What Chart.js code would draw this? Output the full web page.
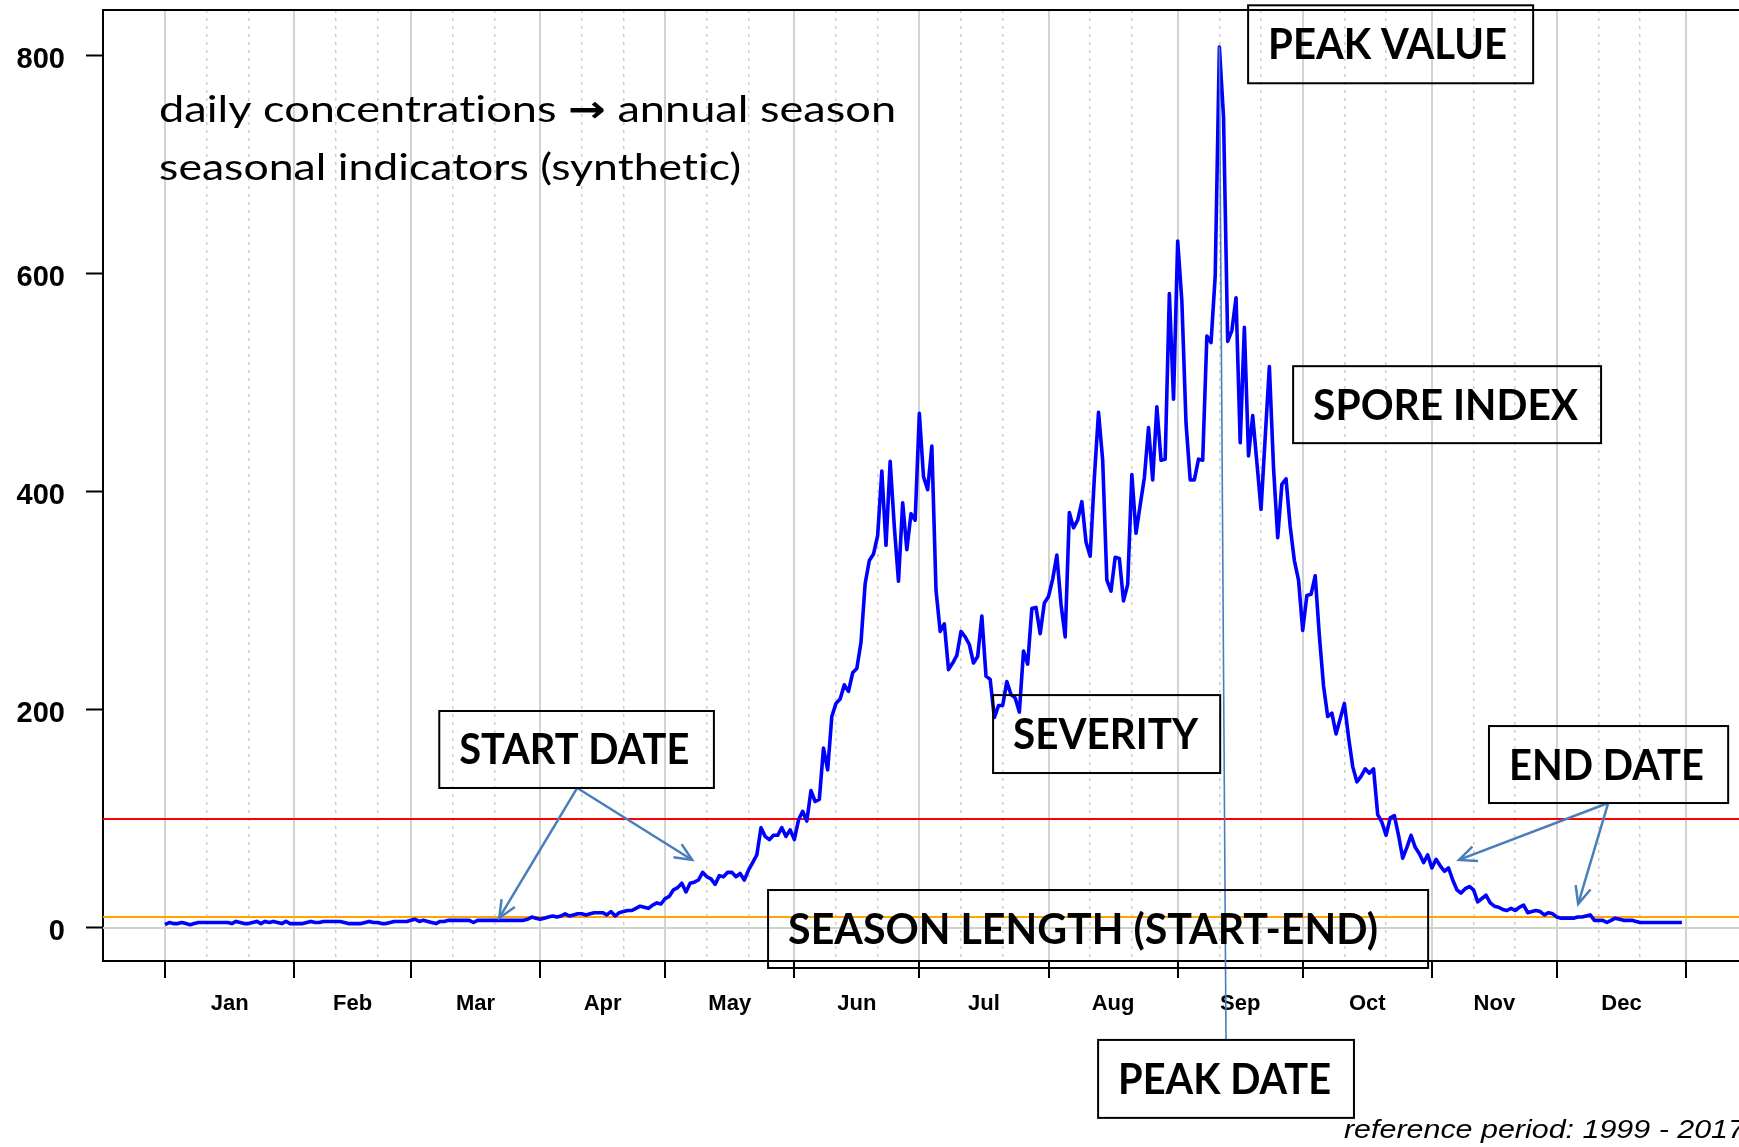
<!DOCTYPE html>
<html>
<head>
<meta charset="utf-8">
<script src="https://cdn.jsdelivr.net/npm/chart.js@4.4.1/dist/chart.umd.min.js"></script>
<style>
  html, body { margin: 0; padding: 0; background: #fff; overflow: hidden; }
</style>
</head>
<body>
<canvas id="chart" width="1739" height="1147"></canvas>
<script>
// daily concentrations, one array per month
const jan = [3,5,4,4,5,4,3,4,5,5,5,5,5,5,5,5,4,6,5,4,4,5,6,4,6,5,6,5,4,6,4];
const feb = [4,4,4,5,6,5,5,6,6,6,6,6,5,4,4,4,4,5,6,5,5,4,4,5,6,6,6,6];
const mar = [7,8,6,7,6,5,4,6,6,7,7,7,7,7,7,5,7,7,7,7,7,7,7,7,7,7,7,7,8,10,9];
const apr = [8,9,10,11,10,11,13,11,12,13,13,12,13,14,14,14,12,15,11,14,15,16,16,18,20,19,18,21,23,22];
const may = [27,29,35,37,41,33,41,42,44,51,47,45,40,48,47,51,51,47,50,44,53,60,67,92,84,81,85,85,92,84,90];
const jun = [81,99,107,98,126,116,118,165,145,194,206,210,223,217,234,238,262,316,337,343,360,419,351,428,368,318,390,347,380,374];
const jul = [472,414,402,442,310,272,279,237,243,250,272,267,260,243,249,286,231,228,193,204,204,226,214,211,198,254,242,293,294,270,298];
const aug = [304,320,342,297,267,381,367,374,391,354,341,413,473,429,319,309,340,339,300,315,416,362,388,413,459,411,478,429,430,582,485];
const sep = [630,575,463,411,411,430,429,543,537,598,808,744,538,548,578,445,551,433,470,427,384,450,515,422,358,407,412,368,337,319];
const oct = [273,305,306,323,268,222,194,197,178,192,206,175,148,134,139,146,142,146,104,97,85,101,103,85,64,74,85,74,68,60,67];
const nov = [55,63,57,52,55,44,35,32,36,38,35,24,27,30,23,20,19,17,16,18,16,19,21,14,15,16,15,12,14,13];
const dec = [10,9,9,9,9,10,10,11,12,7,7,7,5,7,9,8,7,7,7,6,5,5,5,5,5,5,5,5,5,5,5];

const months = ['Jan','Feb','Mar','Apr','May','Jun','Jul','Aug','Sep','Oct','Nov','Dec'];
const monthStarts = [1, 32, 60, 91, 121, 152, 182, 213, 244, 274, 305, 335, 366];
const yTicks = [0, 200, 400, 600, 800];
const levels = [0, 10, 100];
const levelColors = ['#c9d6c9', '#ffa500', '#ff0000'];

const daily = [].concat(jan, feb, mar, apr, may, jun, jul, aug, sep, oct, nov, dec);
const peakDay = daily.indexOf(Math.max(...daily)) + 1;

const X_MIN = -13.9, X_MAX = 378.7;
const Y_MIN = -30.3, Y_MAX = 842;

// x ticks: month boundaries (solid grid + tick mark), 11th/21st (dashed grid), mid-month (label)
const xTicks = [];
monthStarts.forEach((s, i) => {
  xTicks.push({ value: s, kind: 'month' });
  if (i < months.length) {
    xTicks.push({ value: s + 10, kind: 'dekad' });
    xTicks.push({ value: (s + monthStarts[i + 1]) / 2, kind: 'label', label: months[i] });
    xTicks.push({ value: s + 20, kind: 'dekad' });
  }
});
const kindAt = (ctx) => (ctx.tick && xTicks[ctx.index]) ? xTicks[ctx.index].kind : 'none';

// annotation boxes, in data units (day, value)
const boxes = [
  { text: 'PEAK VALUE', x1: 260.9, x2: 329.3, y1: 846.3, y2: 774.8, w: 239 },
  { text: 'SPORE INDEX', x1: 271.7, x2: 345.6, y1: 515.3, y2: 444.7, w: 265 },
  { text: 'START DATE', x1: 66.8, x2: 132.7, y1: 199.0, y2: 128.4, w: 230 },
  { text: 'SEVERITY', x1: 199.7, x2: 254.2, y1: 213.6, y2: 142.1, w: 185 },
  { text: 'END DATE', x1: 318.7, x2: 376.1, y1: 185.2, y2: 114.6, w: 195 },
  { text: 'SEASON LENGTH (START-END)', x1: 145.7, x2: 304.1, y1: 34.8, y2: -36.7, w: 590 },
  { text: 'PEAK DATE', x1: 224.9, x2: 286.3, y1: -102.7, y2: -174.2, w: 213 }
];
const arrows = [
  [99.9, 128.4, 81.2, 9.2],
  [99.9, 128.4, 127.5, 62.4],
  [347.3, 114.6, 311.5, 62.4],
  [347.3, 114.6, 340.1, 22.0]
];

// draw text runs squeezed/stretched to a given total width
function fitRuns(ctx, runs, px, py, width) {
  let total = 0;
  runs.forEach(r => { ctx.font = r.font; r.w = ctx.measureText(r.text).width; total += r.w; });
  ctx.save();
  ctx.translate(px, py);
  ctx.scale(width / total, 1);
  let x = 0;
  runs.forEach(r => { ctx.font = r.font; ctx.fillText(r.text, x, 0); x += r.w; });
  ctx.restore();
}
function fitText(ctx, text, px, py, width, font) {
  fitRuns(ctx, [{ text, font }], px, py, width);
}

function drawArrow(ctx, x0, y0, x1, y1) {
  ctx.beginPath();
  ctx.moveTo(x0, y0);
  ctx.lineTo(x1, y1);
  ctx.stroke();
  const a = Math.atan2(y1 - y0, x1 - x0);
  const L = 19, s = 0.42;
  ctx.beginPath();
  ctx.moveTo(x1 - L * Math.cos(a - s), y1 - L * Math.sin(a - s));
  ctx.lineTo(x1, y1);
  ctx.lineTo(x1 - L * Math.cos(a + s), y1 - L * Math.sin(a + s));
  ctx.stroke();
}

const annotations = {
  id: 'annotations',
  afterDraw(chart) {
    const { ctx, chartArea } = chart;
    const xs = chart.scales.x, ys = chart.scales.y;
    const px = (v) => xs.getPixelForValue(v);
    const py = (v) => ys.getPixelForValue(v);
    ctx.save();

    // top frame line
    ctx.strokeStyle = '#000';
    ctx.lineWidth = 2;
    ctx.beginPath();
    ctx.moveTo(chartArea.left - 1, chartArea.top);
    ctx.lineTo(chartArea.right, chartArea.top);
    ctx.stroke();

    // heading (ZWNJ keeps Lato from using its "ti" ligature)
    ctx.fillStyle = '#000';
    ctx.textBaseline = 'alphabetic';
    ctx.textAlign = 'left';
    fitRuns(ctx, [
      { text: 'daily concentrat\u200Cions ', font: '37px Lato' },
      { text: '\u2192', font: 'bold 37px "DejaVu Sans"' },
      { text: ' annual season', font: '37px Lato' }
    ], px(-0.44), py(739.3), 737);
    fitText(ctx, 'seasonal indicators (synthet\u200Cic)', px(-0.44), py(685.8), 582, '37px Lato');

    // peak date line
    ctx.strokeStyle = '#4a7ebb';
    ctx.lineWidth = 1.6;
    ctx.beginPath();
    ctx.moveTo(px(peakDay), py(daily[peakDay - 1]));
    ctx.lineTo(px((224.9 + 286.3) / 2), py(-102.7));
    ctx.stroke();

    // arrows
    ctx.lineWidth = 2.5;
    arrows.forEach(a => drawArrow(ctx, px(a[0]), py(a[1]), px(a[2]), py(a[3])));

    // boxes
    boxes.forEach(b => {
      const l = px(b.x1), r = px(b.x2), t = py(b.y1), btm = py(b.y2);
      ctx.strokeStyle = '#000';
      ctx.lineWidth = 2;
      ctx.strokeRect(l, t, r - l, btm - t);
      fitText(ctx, b.text, l + 20, (t + btm) / 2 + 15, b.w, 'bold 42px Lato');
    });

    // reference period
    fitText(ctx, 'reference period: 1999 - 2017', px(283.9), py(-192.6), 401, 'italic 25px "Liberation Sans"');
    ctx.restore();
  }
};

const lineDatasets = levels.map((lv, i) => ({
  data: [{ x: X_MIN, y: lv }, { x: X_MAX, y: lv }],
  borderColor: levelColors[i],
  borderWidth: 2,
  pointRadius: 0,
  order: 2
}));

new Chart(document.getElementById('chart'), {
  type: 'line',
  data: {
    datasets: [
      {
        data: daily.map((v, i) => ({ x: i + 1, y: v })),
        borderColor: '#0000ff',
        borderWidth: 3.6,
        pointRadius: 0,
        tension: 0,
        borderJoinStyle: 'round',
        order: 0
      },
      ...lineDatasets
    ]
  },
  options: {
    responsive: false,
    animation: false,
    devicePixelRatio: 1,
    layout: { padding: { top: 10, left: 0, right: 0, bottom: 0 } },
    plugins: { legend: { display: false }, tooltip: { enabled: false } },
    scales: {
      x: {
        type: 'linear',
        min: X_MIN,
        max: X_MAX,
        afterBuildTicks: (axis) => { axis.ticks = xTicks.map(t => ({ value: t.value })); },
        afterFit: (axis) => { axis.height = 186; axis.paddingLeft = 0; axis.paddingRight = 0; },
        grid: {
          color: (ctx) => {
            const k = kindAt(ctx);
            return k === 'month' ? '#d3d3d3' : k === 'dekad' ? '#cdcdcd' : 'rgba(0,0,0,0)';
          },
          lineWidth: (ctx) => kindAt(ctx) === 'month' ? 2 : 1.5,
          tickColor: (ctx) => kindAt(ctx) === 'month' ? '#000' : 'rgba(0,0,0,0)',
          tickLength: 17,
          tickWidth: 2
        },
        border: {
          color: '#000',
          width: 2,
          dash: (ctx) => kindAt(ctx) === 'dekad' ? [3, 5] : []
        },
        ticks: {
          autoSkip: false,
          maxRotation: 0,
          padding: 13,
          color: '#000',
          font: { family: '"Liberation Sans", Arial', size: 22, weight: 'bold' },
          callback: (value, index) => xTicks[index] && xTicks[index].label ? xTicks[index].label : ''
        }
      },
      y: {
        type: 'linear',
        min: Y_MIN,
        max: Y_MAX,
        afterBuildTicks: (axis) => { axis.ticks = yTicks.map(v => ({ value: v })); },
        afterFit: (axis) => { axis.width = 103; axis.paddingTop = 0; axis.paddingBottom = 0; },
        grid: { drawOnChartArea: false, tickLength: 17, tickWidth: 2, tickColor: '#000' },
        border: { color: '#000', width: 2 },
        ticks: {
          padding: 21,
          labelOffset: 4,
          color: '#000',
          font: { family: '"Liberation Sans", Arial', size: 29, weight: 'bold' }
        }
      }
    }
  },
  plugins: [annotations]
});
</script>
</body>
</html>
